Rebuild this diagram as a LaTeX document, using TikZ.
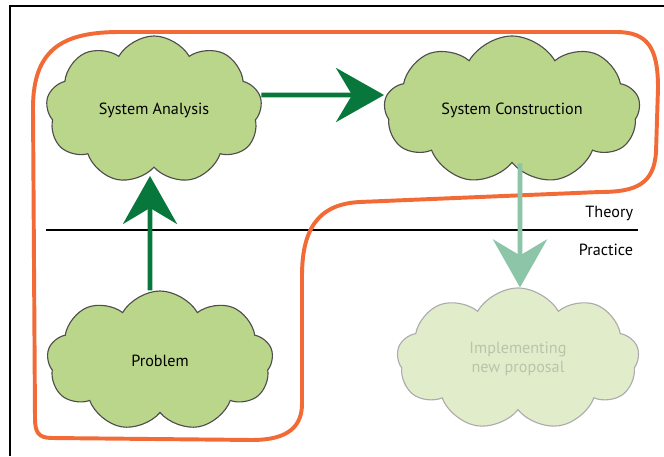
\documentclass[tikz,border=0pt]{standalone}
\usepackage{fontspec}
\setmainfont{PT Sans}
\usetikzlibrary{arrows.meta,shapes.symbols}

\definecolor{cloudfill}{RGB}{186,214,138}
\definecolor{cloudline}{RGB}{77,77,77}
\definecolor{palefill}{RGB}{225,236,203}
\definecolor{paleline}{RGB}{172,172,172}
\definecolor{paletext}{RGB}{185,196,170}
\definecolor{darkgreen}{RGB}{8,119,59}
\definecolor{palegreen}{RGB}{140,197,168}
\definecolor{outline}{RGB}{242,106,53}

\tikzset{
	cloudy/.style={cloud, cloud puffs=9, cloud puff arc=120, cloud ignores aspect,
		draw=cloudline, fill=cloudfill, line width=0.8pt, inner sep=0pt,
		font=\fontsize{11.5}{13.5}\selectfont, align=center},
	bigarrow/.style={line width=3.5pt, -{Stealth[length=1.2cm,width=1.35cm,inset=0.4cm]}},
}

\begin{document}
\begin{tikzpicture}
	
	\useasboundingbox (0,0) rectangle (16.6,11.4);
	
	% frame
	\draw[line width=0.8pt] (16.6,11.25) -- (0.25,11.25) -- (0.25,0);
	
	% theory / practice
	\draw[line width=0.8pt] (1.15,5.65) -- (15.95,5.65);
	\node[anchor=east, font=\fontsize{11.5}{13.5}\selectfont] (theory) at (15.95,6.05) {Theory};
	\node[anchor=east, font=\fontsize{11.5}{13.5}\selectfont] (practice) at (15.95,5.15) {Practice};
	
	% orange outline
	\draw[outline, line width=2.8pt, line join=round]
		(0.825,8.7) .. controls (0.825,10.2) and (1.6,10.6) .. (3.0,10.6)
		-- (15.4,10.6) .. controls (16.2,10.6) and (16.45,10.2) .. (16.45,9.2)
		-- (16.4,7.6) .. controls (16.35,6.8) and (15.9,6.6) .. (15.0,6.6)
		-- (9.0,6.35) .. controls (7.9,6.3) and (7.55,5.6) .. (7.55,4.5)
		-- (7.55,1.3) .. controls (7.55,0.6) and (7.0,0.4) .. (6.3,0.4)
		-- (1.3,0.45) .. controls (0.95,0.45) and (0.875,0.6) .. (0.875,0.95)
		-- cycle;
	
	% clouds
	\node[cloudy, minimum width=5.4cm, minimum height=3.7cm] (sa) at (3.85,8.65) {System Analysis};
	\node[cloudy, minimum width=6.4cm, minimum height=3.7cm] (sc) at (12.8,8.65) {System Construction};
	\node[cloudy, minimum width=5.65cm, minimum height=3.5cm] (prob) at (4.0,2.375) {Problem};
	\node[cloudy, minimum width=6.05cm, minimum height=3.55cm, draw=paleline, fill=palefill, text=paletext] (impl) at (12.95,2.425) {Implementing\\new proposal};
	
	% arrows
	\draw[bigarrow, darkgreen] ([yshift=3.75mm]sa.east) -- ([yshift=3.75mm]sc.west);
	\draw[bigarrow, darkgreen] ([xshift=-2.5mm]prob.north) -- ([xshift=-1mm,yshift=-2mm]sa.south);
	\draw[bigarrow, palegreen] ([xshift=2mm]sc.south) -- ([xshift=0.5mm]impl.north);
	
\end{tikzpicture}
\end{document}
